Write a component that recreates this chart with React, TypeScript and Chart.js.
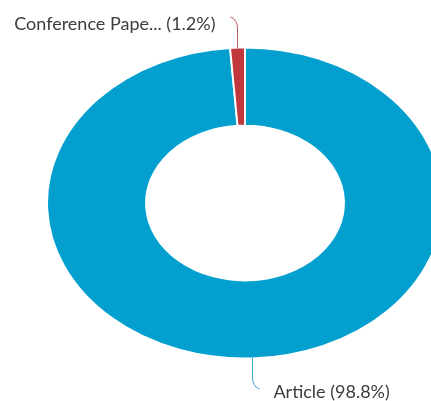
import React, { useEffect, useRef } from "react";
import { Chart, registerables } from "chart.js";
Chart.register(...registerables);

const categories = ["Article", "Conference Pape..."];
const values = [98.8, 1.2];
const sliceColors = ["#03a0cf", "#c0373c"];
const lineColors = ["#3aa3c8", "#b5575b"];

const SX = 1.275;
const FONT = "18px Lato";

export default function App() {
  const ref = useRef<HTMLCanvasElement>(null);
  useEffect(() => {
    if (!ref.current) return;
    const total = values.reduce((a, b) => a + b, 0);
    const stretch = {
      id: "stretch",
      beforeDatasetsDraw(chart: any) {
        const a = chart.getDatasetMeta(0).data[0];
        const ctx = chart.ctx;
        ctx.save();
        ctx.translate(a.x, a.y);
        ctx.scale(SX, 1);
        ctx.translate(-a.x, -a.y);
      },
      afterDatasetsDraw(chart: any) {
        const ctx = chart.ctx;
        ctx.restore();
        const meta = chart.getDatasetMeta(0);
        meta.data.forEach((arc: any, i: number) => {
          const mid = (arc.startAngle + arc.endAngle) / 2;
          const ax = arc.x + Math.cos(mid) * arc.outerRadius * SX;
          const ay = arc.y + Math.sin(mid) * arc.outerRadius;
          const dir = Math.sin(mid) < 0 ? -1 : 1;
          const hdir = dir < 0 ? -1 : 1;
          const p1y = ay + dir * 19;
          const cy = ay + dir * 28;
          const ex = ax + hdir * 7;
          const ey = ay + dir * 31;
          ctx.save();
          ctx.strokeStyle = lineColors[i];
          ctx.lineWidth = 1;
          ctx.beginPath();
          ctx.moveTo(ax, ay);
          ctx.lineTo(ax, p1y);
          ctx.quadraticCurveTo(ax, cy, ex, ey);
          ctx.stroke();
          const pct = ((values[i] / total) * 100).toFixed(1);
          const text = `${categories[i]} (${pct}%)`;
          ctx.font = FONT;
          ctx.fillStyle = "#3d3d3d";
          ctx.textBaseline = "alphabetic";
          if (dir < 0) {
            ctx.textAlign = "right";
            ctx.fillText(text, ex - 15, ey + 13);
          } else {
            ctx.textAlign = "left";
            ctx.fillText(text, ex + 14, ey + 9);
          }
          ctx.restore();
        });
      },
    };
    const chart = new Chart(ref.current, {
      type: "doughnut",
      data: {
        labels: categories,
        datasets: [
          {
            data: values,
            backgroundColor: sliceColors,
            borderColor: "#ffffff",
            borderWidth: 1.5,
            hoverOffset: 0,
          },
        ],
      },
      options: {
        animation: false,
        responsive: true,
        maintainAspectRatio: false,
        cutout: "50%",
        layout: { padding: { top: 47, bottom: 42, left: 89, right: 30 } },
        plugins: { legend: { display: false }, tooltip: { enabled: false } },
      },
      plugins: [stretch],
    });
    return () => chart.destroy();
  }, []);
  return (
    <div style={{ position: "fixed", left: 0, top: 0, width: 431, height: 401, background: "#fff" }}>
      <canvas ref={ref} />
    </div>
  );
}
